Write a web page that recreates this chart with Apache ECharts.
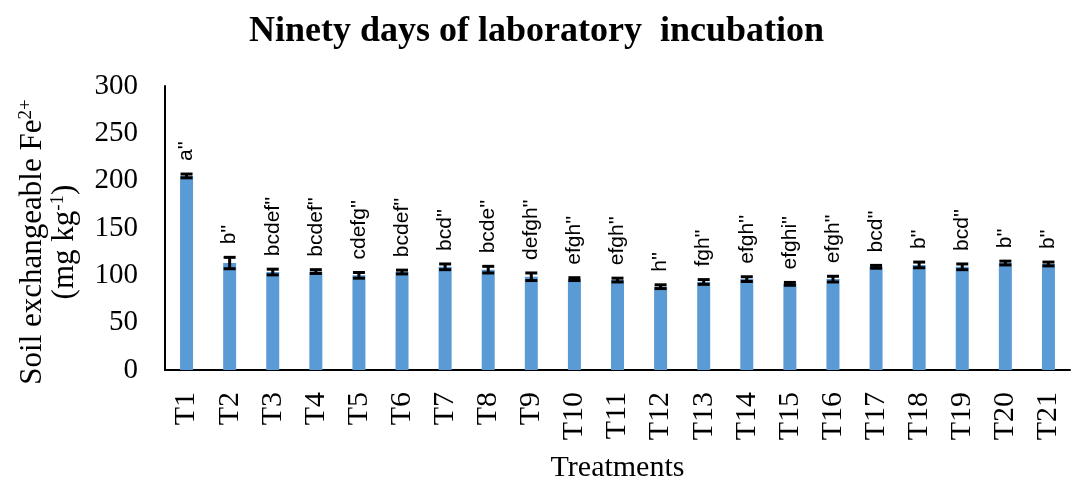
<!DOCTYPE html>
<html>
<head>
<meta charset="utf-8">
<title>Ninety days of laboratory incubation</title>
<script src="https://cdn.jsdelivr.net/npm/echarts@6/dist/echarts.min.js"></script>
<style>
  html, body { margin: 0; padding: 0; background: #fff; }
  #chart { width: 1073px; height: 482px; }
</style>
</head>
<body>
<div id="chart"></div>
<script>
// treatments on the x axis
var treatments = ['T1','T2','T3','T4','T5','T6','T7','T8','T9','T10','T11',
                  'T12','T13','T14','T15','T16','T17','T18','T19','T20','T21'];
// mean exchangeable Fe2+ (mg/kg)
var feValues = [205, 113, 103.5, 104, 100, 103.5, 109, 106, 98.5, 96, 95,
                88, 93, 96, 91, 96, 109, 111, 109, 113, 112];
// standard error
var feErrors = [2, 6, 3, 2, 3, 2, 3, 3.5, 4, 1.5, 2,
                2, 2.5, 2.5, 1.5, 3, 1.5, 3, 3, 2, 2];
// significance letters
var letters = ["a''","b''","bcdef''","bcdef''","cdefg''","bcdef''","bcd''","bcde''","defgh''","efgh''","efgh''",
               "h''","fgh''","efgh''","efghi''","efgh''","bcd''","b''","bcd''","b''","b''"];
var yTicks = { min: 0, max: 300, step: 50 };

var chart = echarts.init(document.getElementById('chart'));

var serif = 'Liberation Serif';

var option = {
  animation: false,
  title: {
    text: 'Ninety days of laboratory  incubation',
    left: 'center',
    top: 9,
    textStyle: { fontFamily: serif, fontSize: 36, fontWeight: 'bold', color: '#000' }
  },
  grid: { left: 165, right: 3, top: 86, bottom: 112, outerBoundsMode: 'none', containLabel: false },
  xAxis: {
    type: 'category',
    data: treatments,
    name: 'Treatments',
    nameLocation: 'middle',
    nameGap: 83,
    nameTextStyle: { fontFamily: serif, fontSize: 30, color: '#000' },
    axisLine: { lineStyle: { color: '#000', width: 2 } },
    axisTick: { show: false },
    axisLabel: { rotate: 90, fontFamily: serif, fontSize: 30, color: '#000', margin: 22 }
  },
  yAxis: {
    type: 'value',
    min: yTicks.min,
    max: yTicks.max,
    interval: yTicks.step,
    name: '{t|Soil exchangeable Fe}{s|2+}\n{t|(mg kg}{s|-1}{t|)}',
    nameLocation: 'middle',
    nameRotate: 90,
    nameGap: 84,
    nameTextStyle: {
      color: '#000',
      lineHeight: 32,
      padding: [0, 28, 0, 0],
      rich: {
        t: { fontFamily: serif, fontSize: 31, color: '#000', lineHeight: 32 },
        s: { fontFamily: serif, fontSize: 19, color: '#000', verticalAlign: 'top', lineHeight: 32, padding: [0, 0, 12, 0] }
      }
    },
    axisLine: { show: true, lineStyle: { color: '#000', width: 2 } },
    axisTick: { show: false },
    splitLine: { show: false },
    axisLabel: { fontFamily: serif, fontSize: 29, color: '#000', margin: 27 }
  },
  series: [
    {
      type: 'bar',
      data: feValues,
      barWidth: 13,
      itemStyle: { color: '#5B9BD5' }
    },
    {
      type: 'custom',
      data: feValues.map(function (v, i) { return [i, v, feErrors[i]]; }),
      renderItem: function (params, api) {
        var i = api.value(0), v = api.value(1), e = api.value(2);
        var lo = api.coord([i, v - e]);
        var hi = api.coord([i, v + e]);
        var hw = 6;
        var st = { stroke: '#000', lineWidth: 3 };
        return {
          type: 'group',
          children: [
            { type: 'line', shape: { x1: hi[0], y1: hi[1], x2: lo[0], y2: lo[1] }, style: st },
            { type: 'line', shape: { x1: hi[0] - hw, y1: hi[1], x2: hi[0] + hw, y2: hi[1] }, style: st },
            { type: 'line', shape: { x1: lo[0] - hw, y1: lo[1], x2: lo[0] + hw, y2: lo[1] }, style: st },
            {
              type: 'text',
              x: hi[0],
              y: hi[1] - 13,
              rotation: Math.PI / 2,
              style: {
                text: letters[params.dataIndex],
                fontFamily: 'Liberation Sans',
                fontSize: 21,
                fill: '#000',
                align: 'left',
                verticalAlign: 'middle'
              }
            }
          ]
        };
      },
      z: 5
    }
  ]
};

chart.setOption(option);
</script>
</body>
</html>
